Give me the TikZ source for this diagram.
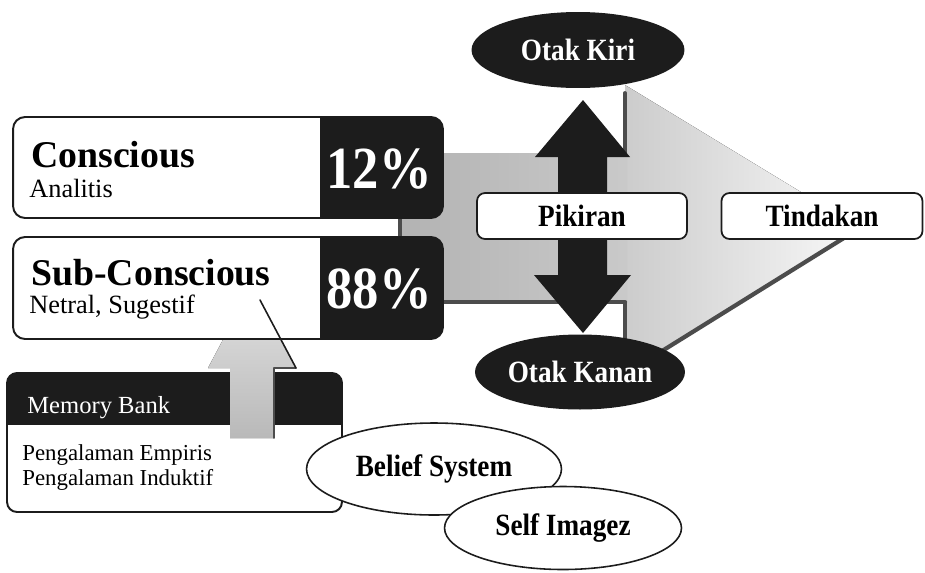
\documentclass[tikz,border=0pt]{standalone}
\usepackage{fontspec}
\setmainfont{Liberation Serif}
\newfontfamily\condfont{Liberation Serif}[FakeStretch=0.88]
\usetikzlibrary{shapes.geometric}

\definecolor{ink}{gray}{0.11}
\definecolor{edge}{gray}{0.3}
\newcommand\lblfont{\condfont\fontsize{17.6}{20}\selectfont\bfseries}

\tikzset{
  mindbox/.style={draw=ink, line width=1.1pt, rounded corners=0.24cm, fill=white,
    minimum width=8.6cm, inner sep=0pt,
    path picture={\fill[ink, sharp corners] ([xshift=-2.46cm]path picture bounding box.north east)
      rectangle (path picture bounding box.south east);}},
  bankbox/.style={draw=ink, line width=1.1pt, rounded corners=0.2cm, fill=white,
    minimum width=6.7cm, minimum height=2.78cm, inner sep=0pt,
    path picture={\fill[ink, sharp corners] (path picture bounding box.north west)
      rectangle ([yshift=-1.04cm]path picture bounding box.north east);}},
  brain/.style={ellipse, fill=ink, text=white, inner sep=0pt, font=\lblfont},
  belief/.style={ellipse, draw=ink, line width=0.9pt, fill=white, inner sep=0pt, font=\lblfont},
  flowbox/.style={draw=ink, line width=1pt, rounded corners=0.16cm, fill=white,
    minimum height=0.92cm, inner sep=0pt, font=\lblfont},
  bigword/.style={anchor=base west, inner sep=0pt, font=\fontsize{21.5}{24}\selectfont\bfseries},
  smallword/.style={anchor=base west, inner sep=0pt, font=\fontsize{15}{17}\selectfont},
  percent/.style={anchor=base, inner sep=0pt, text=white, font=\condfont\fontsize{34}{38}\selectfont\bfseries},
  bankline/.style={anchor=base west, inner sep=0pt, font=\fontsize{13}{15}\selectfont},
}

\begin{document}
\begin{tikzpicture}[x=0.02cm,y=-0.02cm,line cap=round,line join=round]
  \useasboundingbox (0,0) rectangle (925,572);
  % grey flow behind the boxes
  \coordinate (Wt) at (625,85);
  \coordinate (Wp) at (860,228);
  \coordinate (Wb) at (625,374);
  \fill[left color=gray!40, right color=gray!5] (Wt) -- (Wp) -- (Wb) -- cycle;
  \draw[edge, line width=2.2pt] (625,93) -- (Wb);
  \draw[edge, line width=2.4pt] (Wp) -- (Wb);
  \fill[left color=gray!60, right color=gray!42] (400,153) rectangle (627,302);
  \draw[edge, line width=2.4pt] (400,153) -- (400,302) -- (625,302);

  % memory bank -> sub-conscious
  \node[bankbox] (bank) at (174.5,442.5) {};
  \node[anchor=base west, inner sep=0pt, text=white, font=\fontsize{14}{16}\selectfont] (bankT) at (27,413) {Memory Bank};
  \node[bankline] (emp) at (22,460) {Pengalaman Empiris};
  \node[bankline] (ind) at (22,485) {Pengalaman Induktif};
  \coordinate (Ut) at (252,285);
  \fill[top color=gray!22, bottom color=gray!55] (Ut) -- (296,368) -- (274,368) -- (274,438)
    -- (230,438) -- (230,368) -- (208,368) -- cycle;
  \draw[edge, line width=0.9pt] (296,368) -- (274,368) -- (274,438);

  % conscious / sub-conscious
  \node[mindbox, minimum height=2.02cm] (con) at (228,167.5) {};
  \node[mindbox, minimum height=2.04cm] (sub) at (228,288) {};
  \node[bigword] (conT) at (31,167) {Conscious};
  \node[smallword] (conS) at (29,197) {Analitis};
  \node[percent] (conP) at (379,188) {12\%};
  \node[bigword] (subT) at (31,285) {Sub-Conscious};
  \node[smallword] (subS) at (29,313) {Netral, Sugestif};
  \node[percent] (subP) at (379,308) {88\%};
  \draw[ink, line width=0.9pt] (260,300) -- (296,368);

  % otak kiri <-> otak kanan
  \fill[ink] (583,100) -- (630,157) -- (607,157) -- (607,275) -- (631,275) -- (583,333)
    -- (534,275) -- (558,275) -- (558,157) -- (535,157) -- cycle;
  \node[brain, minimum width=4.26cm, minimum height=1.52cm] (kiri) at (578,50) {Otak Kiri};
  \node[brain, minimum width=4.2cm, minimum height=1.5cm] (kanan) at (580,372) {Otak Kanan};
  \node[flowbox, minimum width=4.2cm] (pikir) at (582,216) {Pikiran};
  \node[flowbox, minimum width=4.02cm] (tindak) at (822,216) {Tindakan};

  \node[belief, minimum width=5.1cm, minimum height=1.84cm] (bel) at (434,469) {Belief System};
  \node[belief, minimum width=4.74cm, minimum height=1.66cm] (self) at (563,528) {Self Imagez};
\end{tikzpicture}
\end{document}
